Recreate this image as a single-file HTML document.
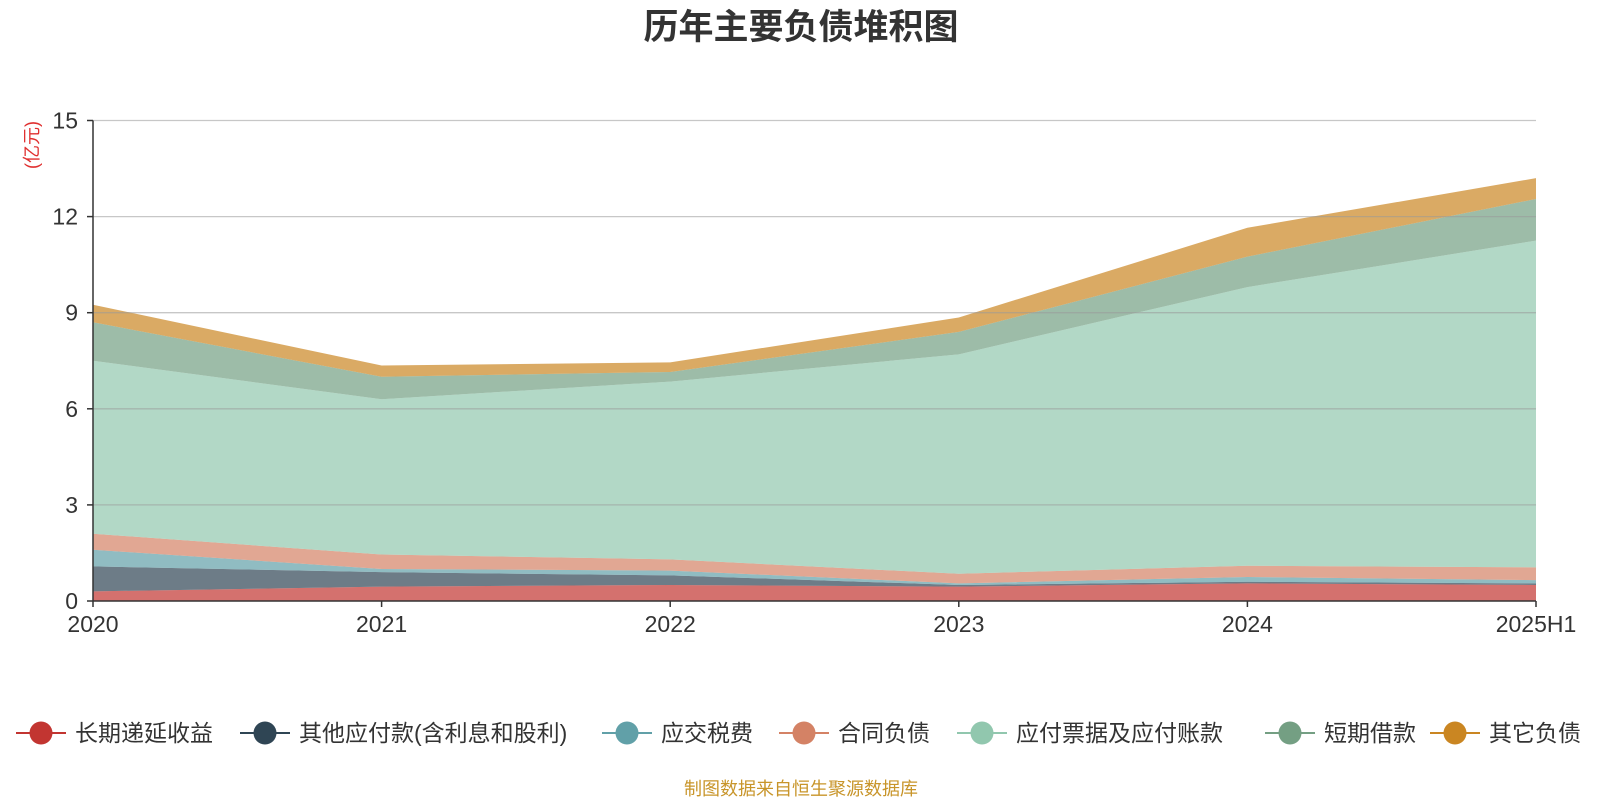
<!DOCTYPE html>
<html><head><meta charset="utf-8"><style>
body{margin:0;background:#fff;width:1600px;height:800px;overflow:hidden;font-family:"Liberation Sans","Noto Sans CJK SC",sans-serif}
</style></head><body>
<svg id="chart" width="1600" height="800" xmlns="http://www.w3.org/2000/svg" font-family="Liberation Sans, Noto Sans CJK SC, sans-serif">
<text x="801" y="39" text-anchor="middle" font-size="35" font-weight="bold" fill="#333">历年主要负债堆积图</text>
<text transform="translate(38,145) rotate(-90)" text-anchor="middle" font-size="18" fill="#e03030">(亿元)</text>
<g id="areas"></g><g id="grid"></g><g id="axes"></g><g id="legend"></g>
<text x="801" y="795" text-anchor="middle" font-size="18" fill="#c8952a">制图数据来自恒生聚源数据库</text>
</svg>
<script>
const categories=["2020","2021","2022","2023","2024","2025H1"];
const seriesNames=["长期递延收益","其他应付款(含利息和股利)","应交税费","合同负债","应付票据及应付账款","短期借款","其它负债"];
const longTermDeferred=[0.30,0.45,0.50,0.45,0.55,0.50];
const otherPayables=[0.78,0.45,0.30,0.05,0.05,0.05];
const taxesPayable=[0.52,0.10,0.15,0.05,0.15,0.10];
const contractLiab=[0.50,0.45,0.35,0.30,0.35,0.40];
const notesAccounts=[5.40,4.85,5.55,6.85,8.70,10.20];
const shortLoans=[1.20,0.70,0.30,0.70,0.95,1.30];
const otherLiab=[0.55,0.35,0.30,0.45,0.90,0.65];
const yTicks=[0,3,6,9,12,15];
const colors=["#c23531","#2f4554","#61a0a8","#d48265","#91c7ae","#749f83","#ca8622"];
const series=[longTermDeferred,otherPayables,taxesPayable,contractLiab,notesAccounts,shortLoans,otherLiab];
const NS="http://www.w3.org/2000/svg";
const x0=93,x1=1536,yb=601,yt=120.5,ymax=15;
const xs=i=>x0+(x1-x0)*i/(categories.length-1);
const ys=v=>yb-(yb-yt)*v/ymax;
function mk(tag,attrs,parent){const e=document.createElementNS(NS,tag);for(const k in attrs)e.setAttribute(k,attrs[k]);parent.appendChild(e);return e;}
const A=document.getElementById('areas'),G=document.getElementById('grid'),X=document.getElementById('axes'),L=document.getElementById('legend');
let base=categories.map(()=>0);
series.forEach((s,si)=>{
  const top=base.map((b,i)=>b+s[i]);
  let d=top.map((v,i)=>(i?'L':'M')+xs(i)+','+ys(v)).join('');
  for(let i=categories.length-1;i>=0;i--)d+='L'+xs(i)+','+ys(base[i]);
  const p=mk('path',{d:d+'Z',fill:colors[si],'fill-opacity':0.7,stroke:'none'},A);
  
  
  base=top;
});
yTicks.forEach(t=>{
  if(t>0){const g=mk('line',{x1:x0,x2:x1,y1:ys(t),y2:ys(t),stroke:'#999','stroke-opacity':0.55,'stroke-width':1.3},G);
  
  }
  const tk=mk('line',{x1:x0-6,x2:x0,y1:ys(t),y2:ys(t),stroke:'#333','stroke-width':1.5},X);
  
  
  const tx=mk('text',{x:x0-15,y:ys(t)+8,'text-anchor':'end','font-size':23,fill:'#333'},X);
  tx.textContent=t;
  
  
});
const ya=mk('line',{x1:x0,x2:x0,y1:yt,y2:yb,stroke:'#333','stroke-width':1.5},X);


const xa=mk('line',{x1:x0,x2:x1,y1:yb,y2:yb,stroke:'#333','stroke-width':1.5},X);


categories.forEach((c,i)=>{
  const tk=mk('line',{x1:xs(i),x2:xs(i),y1:yb,y2:yb+6,stroke:'#333','stroke-width':1.5},X);
  
  
  const tx=mk('text',{x:xs(i),y:yb+31,'text-anchor':'middle','font-size':23,fill:'#333'},X);
  tx.textContent=c;
  
  
});
const legX=[41,265,627,804,982,1290,1455];
seriesNames.forEach((n,i)=>{
  const g=mk('g',{},L);
  
  
  mk('line',{x1:legX[i]-25,x2:legX[i]+25,y1:733,y2:733,stroke:colors[i],'stroke-width':2},g);
  mk('circle',{cx:legX[i],cy:733,r:11.5,fill:colors[i]},g);
  const t=mk('text',{x:legX[i]+34,y:741,'font-size':23,fill:'#333'},g);
  t.textContent=n;
});
</script>
</body></html>
